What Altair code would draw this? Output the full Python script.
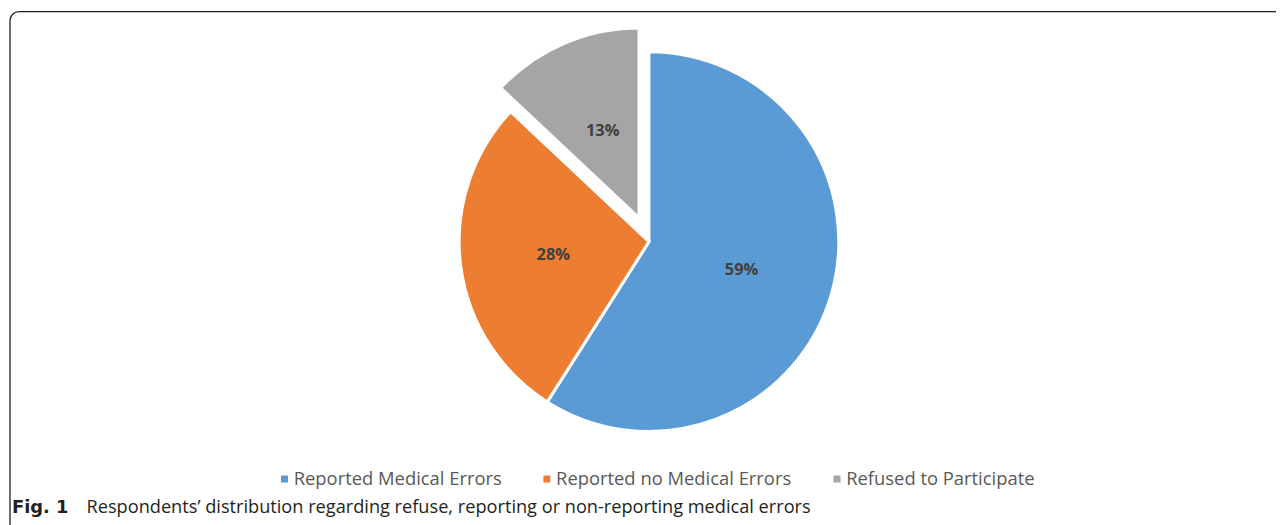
import altair as alt
import pandas as pd

categories = ["Reported Medical Errors", "Reported no Medical Errors", "Refused to Participate"]
values = [59, 28, 13]
order = [1, 2, 3]
colors = ["#5B9BD5", "#ED7D31", "#A5A5A5"]
exploded = "Refused to Participate"
caption_bold = "Fig. 1"
caption_text = "Respondents\u2019 distribution regarding refuse, reporting or non-reporting medical errors"

df = pd.DataFrame({"category": categories, "value": values, "order": order})

CX, CY, R = 645, 233.5, 191
DX, DY = -10, -24

base = alt.Chart(df).transform_calculate(label="datum.value + '%'")

theta = alt.Theta("value:Q", stack=True)
color = alt.Color(
    "category:N",
    scale=alt.Scale(domain=categories, range=colors),
    sort=categories,
    legend=alt.Legend(
        title=None,
        orient="none",
        legendX=269,
        legendY=463,
        direction="horizontal",
        symbolType="square",
        symbolSize=49,
        symbolStrokeWidth=0,
        labelFontSize=18.5,
        labelFont="Open Sans",
        labelColor="#595959",
        labelOffset=0,
        labelLimit=0,
        columnPadding=36,
        padding=0,
    ),
)
is_exp = alt.datum.category == exploded

pie_main = base.mark_arc(outerRadius=R, stroke="white", strokeWidth=3).encode(
    theta=theta,
    order=alt.Order("order:Q"),
    color=color,
    x=alt.value(CX),
    y=alt.value(CY),
    opacity=alt.condition(is_exp, alt.value(0), alt.value(1)),
)
pie_exp = base.mark_arc(outerRadius=R, stroke="white", strokeWidth=3, xOffset=DX, yOffset=DY).encode(
    theta=theta,
    order=alt.Order("order:Q"),
    color=color,
    x=alt.value(CX),
    y=alt.value(CY),
    opacity=alt.condition(is_exp, alt.value(1), alt.value(0)),
)
txt_main = base.mark_text(radius=97, font="Open Sans", fontWeight="bold", fontSize=16.5, color="#404040",
                          yOffset=1.5).encode(
    theta=theta,
    order=alt.Order("order:Q"),
    text="label:N",
    x=alt.value(CX),
    y=alt.value(CY),
    opacity=alt.condition(is_exp, alt.value(0), alt.value(1)),
)
txt_exp = base.mark_text(radius=97, font="Open Sans", fontWeight="bold", fontSize=16.5, color="#404040",
                         xOffset=DX + 2, yOffset=DY + 2).encode(
    theta=theta,
    order=alt.Order("order:Q"),
    text="label:N",
    x=alt.value(CX),
    y=alt.value(CY),
    opacity=alt.condition(is_exp, alt.value(1), alt.value(0)),
)

one = alt.Data(values=[{"a": 1}])
box = alt.Chart(one).mark_rect(
    fillOpacity=0, stroke="#231f20", strokeWidth=1.3, cornerRadius=9
).encode(x=alt.value(2), y=alt.value(2), x2=alt.value(3000), y2=alt.value(3000))

cap1 = alt.Chart(one).mark_text(
    text=caption_bold, font="DejaVu Sans", fontWeight="bold", fontSize=18, color="#231f20",
    align="left", baseline="middle"
).encode(x=alt.value(4), y=alt.value(502))
cap2 = alt.Chart(one).mark_text(
    text=caption_text, font="Open Sans", fontSize=18.3, color="#231f20",
    align="left", baseline="middle"
).encode(x=alt.value(79), y=alt.value(502))

chart = alt.layer(box, pie_main, pie_exp, txt_main, txt_exp, cap1, cap2).properties(
    width=1276, height=517, padding=0, autosize="none"
).configure_view(stroke=None)

chart.save("out.html", embed_options={"renderer": "svg", "actions": False})
